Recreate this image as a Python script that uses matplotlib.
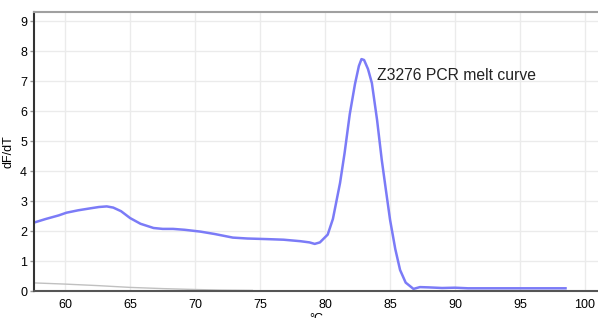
import numpy as np
import matplotlib.pyplot as plt

plt.rcParams['font.family'] = ['Liberation Sans', 'DejaVu Sans']

# melt curve (blue)
temp = [57.6, 58.5, 59.5, 60.1, 61.0, 62.0, 62.6, 63.2, 63.7, 64.3, 65.0,
        65.8, 66.8, 67.5, 68.3, 69.2, 70.4, 71.5, 72.9, 74.0, 75.5, 76.8,
        78.1, 78.8, 79.2, 79.6, 80.2, 80.6, 81.15, 81.5, 81.9, 82.3, 82.6,
        82.8, 83.0, 83.3, 83.6, 84.0, 84.36, 84.7, 85.0, 85.4, 85.77, 86.2,
        86.8, 87.3, 88.0, 89.0, 90.0, 91.0, 93.0, 95.0, 97.0, 98.5]
dfdt = [2.28, 2.40, 2.52, 2.61, 2.69, 2.76, 2.80, 2.82, 2.78, 2.66, 2.43,
        2.24, 2.10, 2.07, 2.07, 2.04, 1.98, 1.90, 1.78, 1.75, 1.73, 1.71,
        1.66, 1.62, 1.57, 1.62, 1.88, 2.40, 3.60, 4.60, 5.90, 6.90, 7.50,
        7.73, 7.70, 7.40, 6.93, 5.70, 4.37, 3.30, 2.37, 1.40, 0.70, 0.28,
        0.07, 0.13, 0.12, 0.10, 0.11, 0.09, 0.09, 0.09, 0.09, 0.09]

# faint grey baseline curve
base_t = [57.6, 60.0, 62.5, 65.0, 67.5, 70.0, 72.0, 74.4]
base_v = [0.27, 0.23, 0.18, 0.12, 0.08, 0.05, 0.03, 0.02]

fig = plt.figure(figsize=(5.98, 3.18), dpi=100)
ax = fig.add_axes([34 / 598, 27 / 318, 1 - 34 / 598, (291 - 12) / 318])

ax.plot(base_t, base_v, color='#c0c0c0', lw=1.0)
ax.plot(temp, dfdt, color='#7b7bf7', lw=1.8)

ax.set_xlim(57.6, 101)
ax.set_ylim(0, 9.3)
ax.set_xticks(range(60, 101, 5))
ax.set_yticks(range(0, 10))
ax.grid(True, color='#ebebeb', lw=1)
ax.set_axisbelow(True)

ax.spines['right'].set_visible(False)
ax.spines['top'].set_color('#a0a0a0')
ax.spines['top'].set_linewidth(1.5)
ax.spines['left'].set_color('#333333')
ax.spines['left'].set_linewidth(1.5)
ax.spines['bottom'].set_color('#555555')
ax.spines['bottom'].set_linewidth(1.5)

ax.tick_params(axis='y', length=3, width=1, color='#999999', labelsize=9, pad=2)
ax.tick_params(axis='x', length=0, labelsize=9, pad=6)

ax.set_ylabel('dF/dT', fontsize=9, labelpad=4)
ax.set_xlabel('°C', fontsize=9, labelpad=1)

ax.text(84.0, 7.2, 'Z3276 PCR melt curve', fontsize=11.3, color='#222222',
        va='center', ha='left')

fig.savefig('out.png', dpi=100)
